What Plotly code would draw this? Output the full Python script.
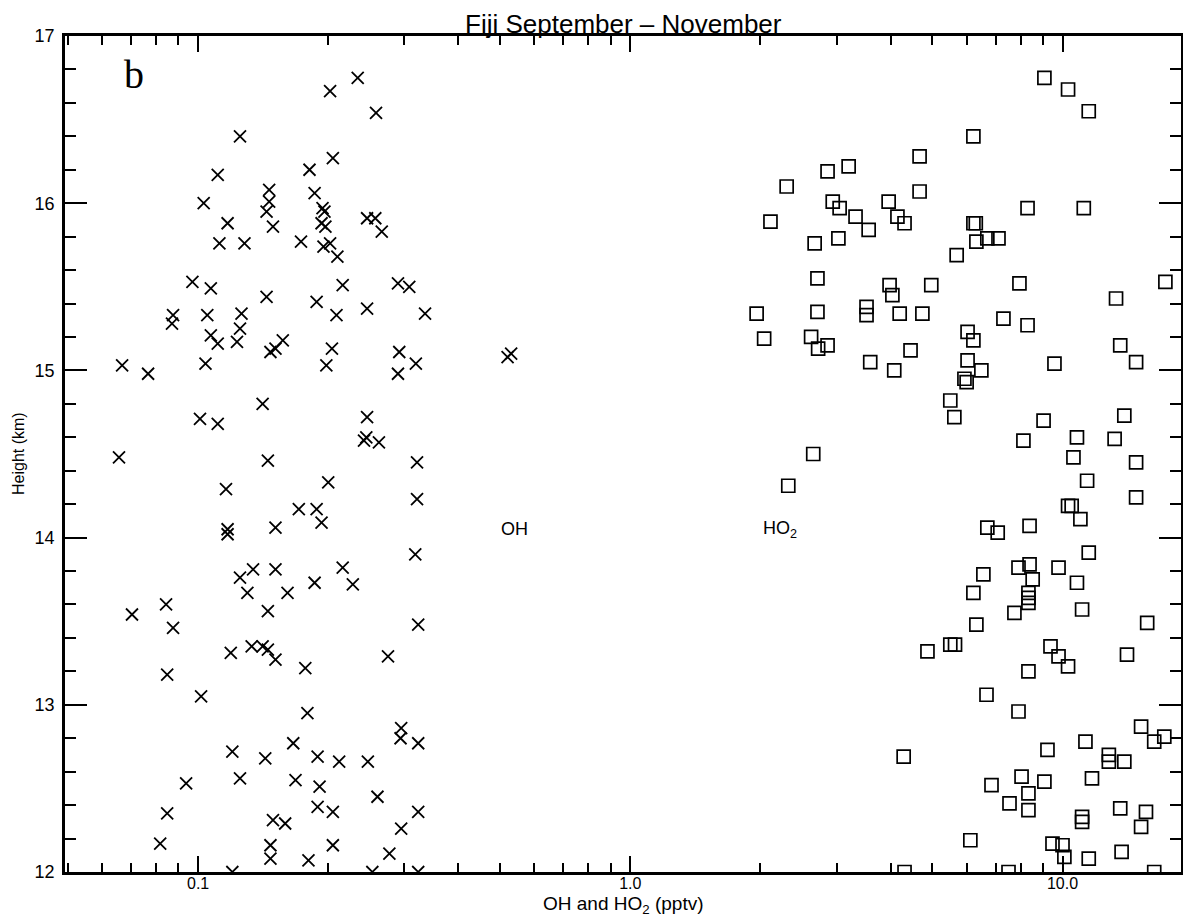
import numpy as np
import plotly.graph_objects as go

oh_x = [0.202,0.234,0.258,0.125,0.205,0.181,0.111,0.146,0.186,0.103,0.146,0.144,0.149,0.194,0.196,0.193,0.197,0.117,0.112,0.128,0.173,0.195,0.202,0.210,0.246,0.257,0.266,0.097,0.107,0.144,0.216,0.290,0.308,0.188,0.246,0.335,0.0875,0.105,0.126,0.209,
        0.087,0.125,0.107,0.111,0.123,0.147,0.151,0.157,0.204,0.292,0.319,0.0667,0.0766,0.104,0.198,0.290,0.141,0.101,0.111,0.246,0.242,0.245,0.262,0.0656,0.145,0.321,0.116,0.200,0.321,0.171,0.188,0.193,0.151,0.117,0.117,0.318,0.216,0.134,0.151,0.125,0.186,0.228,0.130,0.161,
        0.0843,0.0703,0.145,0.0875,0.323,0.119,0.133,0.141,0.145,0.151,0.177,0.275,0.0848,0.1016,0.179,0.295,0.294,0.323,0.166,0.120,0.143,0.189,0.212,0.247,0.0938,0.125,0.168,0.191,0.260,0.189,0.205,0.0848,0.323,0.149,0.159,0.295,0.0817,0.147,0.205,0.277,0.147,0.180,0.120,0.253,0.323,
        0.520,0.530]
oh_y = [16.67,16.75,16.54,16.40,16.27,16.20,16.17,16.08,16.06,16.00,16.01,15.95,15.86,15.97,15.95,15.88,15.86,15.88,15.76,15.76,15.77,15.74,15.76,15.68,15.91,15.91,15.83,15.53,15.49,15.44,15.51,15.52,15.50,15.41,15.37,15.34,15.33,15.33,15.34,15.33,
        15.28,15.25,15.21,15.16,15.17,15.11,15.13,15.18,15.13,15.11,15.04,15.03,14.98,15.04,15.03,14.98,14.80,14.71,14.68,14.72,14.58,14.60,14.57,14.48,14.46,14.45,14.29,14.33,14.23,14.17,14.17,14.09,14.06,14.05,14.02,13.90,13.82,13.81,13.81,13.76,13.73,13.72,13.67,13.67,
        13.60,13.54,13.56,13.46,13.48,13.31,13.35,13.35,13.33,13.27,13.22,13.29,13.18,13.05,12.95,12.86,12.80,12.77,12.77,12.72,12.68,12.69,12.66,12.66,12.53,12.56,12.55,12.51,12.45,12.39,12.36,12.35,12.36,12.31,12.29,12.26,12.17,12.16,12.16,12.11,12.08,12.07,12.0,12.0,12.0,
        15.08,15.10]

ho2_x = [9.08,10.3,11.5,6.22,4.67,3.20,2.86,2.30,4.67,3.96,2.94,3.05,3.32,4.15,4.31,3.56,2.11,8.30,11.2,6.22,6.30,6.32,6.70,7.11,2.67,3.03,5.69,2.71,3.98,4.04,4.97,7.95,13.3,17.3,1.96,2.71,3.52,3.52,4.20,4.74,7.30,8.30,
         2.04,2.62,2.72,2.86,4.45,3.59,4.08,6.03,6.22,6.03,6.49,5.93,6.0,5.50,5.62,13.6,14.8,9.58,13.9,9.04,8.12,10.8,13.2,10.6,14.8,2.65,2.32,11.4,14.8,10.3,10.5,11.0,6.70,7.08,8.39,11.5,7.91,8.39,8.53,9.79,10.8,6.56,6.22,8.34,8.34,
         8.34,7.74,11.1,15.7,6.32,4.87,5.50,5.64,9.38,9.79,10.3,14.1,8.34,6.67,7.91,15.2,16.3,17.2,11.3,9.23,12.8,12.8,13.9,4.29,8.04,6.85,9.08,11.7,8.34,7.54,8.34,11.1,11.1,13.6,15.6,15.2,6.12,9.48,10.0,10.1,11.5,13.7,4.31,7.5,16.3]
ho2_y = [16.75,16.68,16.55,16.40,16.28,16.22,16.19,16.10,16.07,16.01,16.01,15.97,15.92,15.92,15.88,15.84,15.89,15.97,15.97,15.88,15.88,15.77,15.79,15.79,15.76,15.79,15.69,15.55,15.51,15.45,15.51,15.52,15.43,15.53,15.34,15.35,15.38,15.33,15.34,15.34,15.31,15.27,
         15.19,15.20,15.13,15.15,15.12,15.05,15.00,15.23,15.18,15.06,15.00,14.95,14.93,14.82,14.72,15.15,15.05,15.04,14.73,14.70,14.58,14.60,14.59,14.48,14.45,14.50,14.31,14.34,14.24,14.19,14.19,14.11,14.06,14.03,14.07,13.91,13.82,13.84,13.75,13.82,13.73,13.78,13.67,13.67,13.64,
         13.61,13.55,13.57,13.49,13.48,13.32,13.36,13.36,13.35,13.29,13.23,13.30,13.20,13.06,12.96,12.87,12.78,12.81,12.78,12.73,12.70,12.66,12.66,12.69,12.57,12.52,12.54,12.56,12.47,12.41,12.37,12.33,12.30,12.38,12.36,12.27,12.19,12.17,12.16,12.09,12.08,12.12,12.0,12.0,12.0]

x_tickvals = [0.1, 1.0, 10.0]
x_ticktext = ["0.1", "1.0", "10.0"]
y_tickvals = [12, 13, 14, 15, 16, 17]

title_text = "Fiji September \u2013 November"
xtitle_text = "OH and HO<sub>2</sub> (pptv)"
ytitle_text = "Height (km)"

FONT = "Liberation Sans, Arial, sans-serif"

fig = go.Figure()
fig.add_trace(go.Scatter(x=oh_x, y=oh_y, mode="markers", name="OH",
                         marker=dict(symbol="x-thin-open", size=12, color="black",
                                     line=dict(color="black", width=1.8))))
fig.add_trace(go.Scatter(x=ho2_x, y=ho2_y, mode="markers", name="HO2",
                         marker=dict(symbol="square-open", size=13, color="black",
                                     line=dict(color="black", width=1.7))))

minor_x = [m * 10.0 ** e for e in (-2, -1, 0, 1) for m in range(2, 10)]

fig.update_xaxes(type="log", range=[np.log10(0.0492), np.log10(18.8)],
                 tickmode="array", tickvals=x_tickvals, ticktext=x_ticktext,
                 ticks="inside", ticklen=16, tickwidth=2, tickcolor="black",
                 showline=True, linewidth=2.5, linecolor="black", mirror="allticks",
                 showgrid=False, zeroline=False,
                 ticklabelstandoff=-5,
                 tickfont=dict(family=FONT, size=16, color="black"),
                 minor=dict(tickmode="array", tickvals=minor_x, ticks="inside",
                            ticklen=9, tickwidth=2, tickcolor="black", showgrid=False))
fig.update_yaxes(range=[12, 17], tickmode="array", tickvals=y_tickvals,
                 ticks="inside", ticklen=22, tickwidth=2, tickcolor="black",
                 showline=True, linewidth=2.5, linecolor="black", mirror="allticks",
                 showgrid=False, zeroline=False,
                 ticklabelstandoff=4,
                 tickfont=dict(family=FONT, size=18, color="black"),
                 minor=dict(dtick=0.2, ticks="inside", ticklen=11, tickwidth=2,
                            tickcolor="black", showgrid=False))

fig.update_layout(width=1183, height=917,
                  margin=dict(l=65, r=2, t=36, b=45, autoexpand=False),
                  paper_bgcolor="white", plot_bgcolor="white",
                  showlegend=False,
                  font=dict(family=FONT, color="black"))

annots = [
    dict(text=title_text, x=0.5, y=1, xref="paper", yref="paper",
         xanchor="center", yanchor="middle", yshift=12, showarrow=False,
         font=dict(family=FONT, size=26, color="black")),
    dict(text=xtitle_text, x=0.5, y=0, xref="paper", yref="paper",
         xanchor="center", yanchor="middle", yshift=-33, showarrow=False,
         font=dict(family=FONT, size=19, color="black")),
    dict(text=ytitle_text, x=0, y=0.5, xref="paper", yref="paper",
         xanchor="center", yanchor="middle", xshift=-47, textangle=-90, showarrow=False,
         font=dict(family=FONT, size=16, color="black")),
    dict(text="b", x=np.log10(0.071), y=16.77, xref="x", yref="y",
         xanchor="center", yanchor="middle", showarrow=False,
         font=dict(family="Liberation Serif, Times New Roman, serif", size=40, color="black")),
    dict(text="OH", x=np.log10(0.54), y=14.05, xref="x", yref="y",
         xanchor="center", yanchor="middle", showarrow=False,
         font=dict(family=FONT, size=18, color="black")),
    dict(text="HO<sub>2</sub>", x=np.log10(2.22), y=14.05, xref="x", yref="y",
         xanchor="center", yanchor="middle", showarrow=False,
         font=dict(family=FONT, size=18, color="black")),
]
fig.update_layout(annotations=annots)

fig.write_html("out.html")
